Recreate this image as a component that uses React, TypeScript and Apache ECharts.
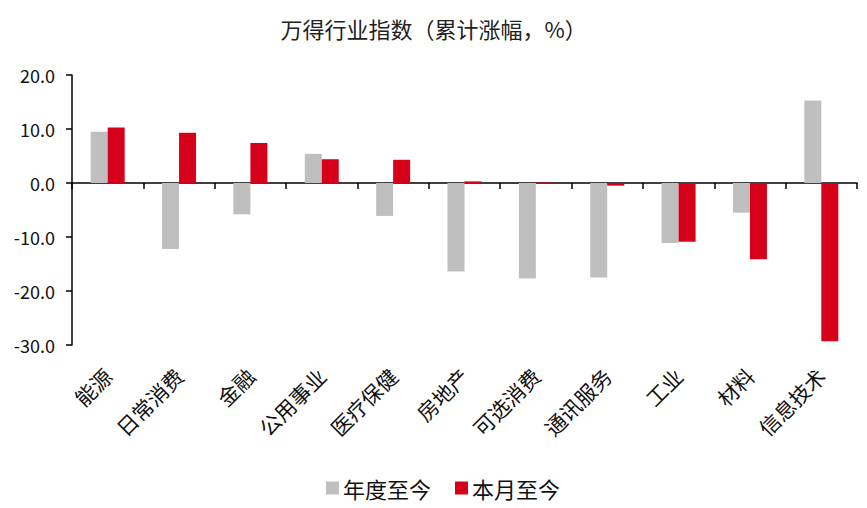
import React, { useEffect, useRef } from "react";
import * as echarts from "echarts";

const categories = ["能源", "日常消费", "金融", "公用事业", "医疗保健", "房地产", "可选消费", "通讯服务", "工业", "材料", "信息技术"];
const ytdValues = [9.5, -12.2, -5.8, 5.4, -6.1, -16.4, -17.7, -17.5, -11.1, -5.5, 15.3];
const mtdValues = [10.3, 9.3, 7.4, 4.4, 4.3, 0.3, 0.1, -0.5, -10.9, -14.1, -29.3];
const seriesNames = ["年度至今", "本月至今"];
const titleText = "万得行业指数（累计涨幅，%）";

const FONT = "'Noto Sans CJK SC', 'Noto Sans', sans-serif";

export default function App() {
  const ref = useRef<HTMLDivElement>(null);
  useEffect(() => {
    if (!ref.current) return;
    const chart = echarts.init(ref.current, undefined, { renderer: "svg" });
    chart.setOption({
      animation: false,
      backgroundColor: "#ffffff",
      title: {
        text: titleText,
        left: "center",
        top: 12,
        textStyle: { fontFamily: FONT, fontSize: 22, fontWeight: "normal", color: "#222" },
      },
      legend: {
        data: seriesNames,
        left: 321,
        top: 472,
        itemWidth: 13,
        itemHeight: 13,
        itemGap: 24,
        icon: "rect",
        textStyle: { fontFamily: FONT, fontSize: 22, color: "#111", padding: [0, 0, 0, -1] },
      },
      grid: { left: 72, right: 10, top: 75, bottom: 163, containLabel: false },
      xAxis: [
        {
          type: "category",
          data: categories,
          position: "bottom",
          axisLine: { onZero: true, lineStyle: { color: "#000", width: 1.5 } },
          axisTick: { show: true, length: 6, lineStyle: { color: "#000", width: 1.5 } },
          axisLabel: { show: false },
          splitLine: { show: false },
        },
        {
          type: "category",
          data: categories,
          position: "bottom",
          axisLine: { show: false, onZero: false },
          axisTick: { show: false },
          axisLabel: { rotate: 45, margin: 27, interval: 0, fontFamily: FONT, fontSize: 21, color: "#111" },
          splitLine: { show: false },
        },
      ],
      yAxis: {
        type: "value",
        min: -30,
        max: 20,
        interval: 10,
        axisLine: { show: true, lineStyle: { color: "#000", width: 1.5 } },
        axisTick: { show: true, length: 6, lineStyle: { color: "#000", width: 1.5 } },
        axisLabel: {
          margin: 17,
          fontFamily: FONT,
          fontSize: 18,
          color: "#111",
          formatter: (v: number) => v.toFixed(1),
        },
        splitLine: { show: false },
      },
      series: [
        {
          name: seriesNames[0],
          type: "bar",
          xAxisIndex: 0,
          data: ytdValues,
          barWidth: 17,
          barGap: "0%",
          itemStyle: { color: "#bfbfbf" },
        },
        {
          name: seriesNames[1],
          type: "bar",
          xAxisIndex: 0,
          data: mtdValues,
          barWidth: 17,
          barGap: "0%",
          itemStyle: { color: "#d7001b" },
        },
      ],
    });
    return () => chart.dispose();
  }, []);
  return <div ref={ref} style={{ position: "fixed", left: 0, top: 0, width: 867, height: 508 }} />;
}
